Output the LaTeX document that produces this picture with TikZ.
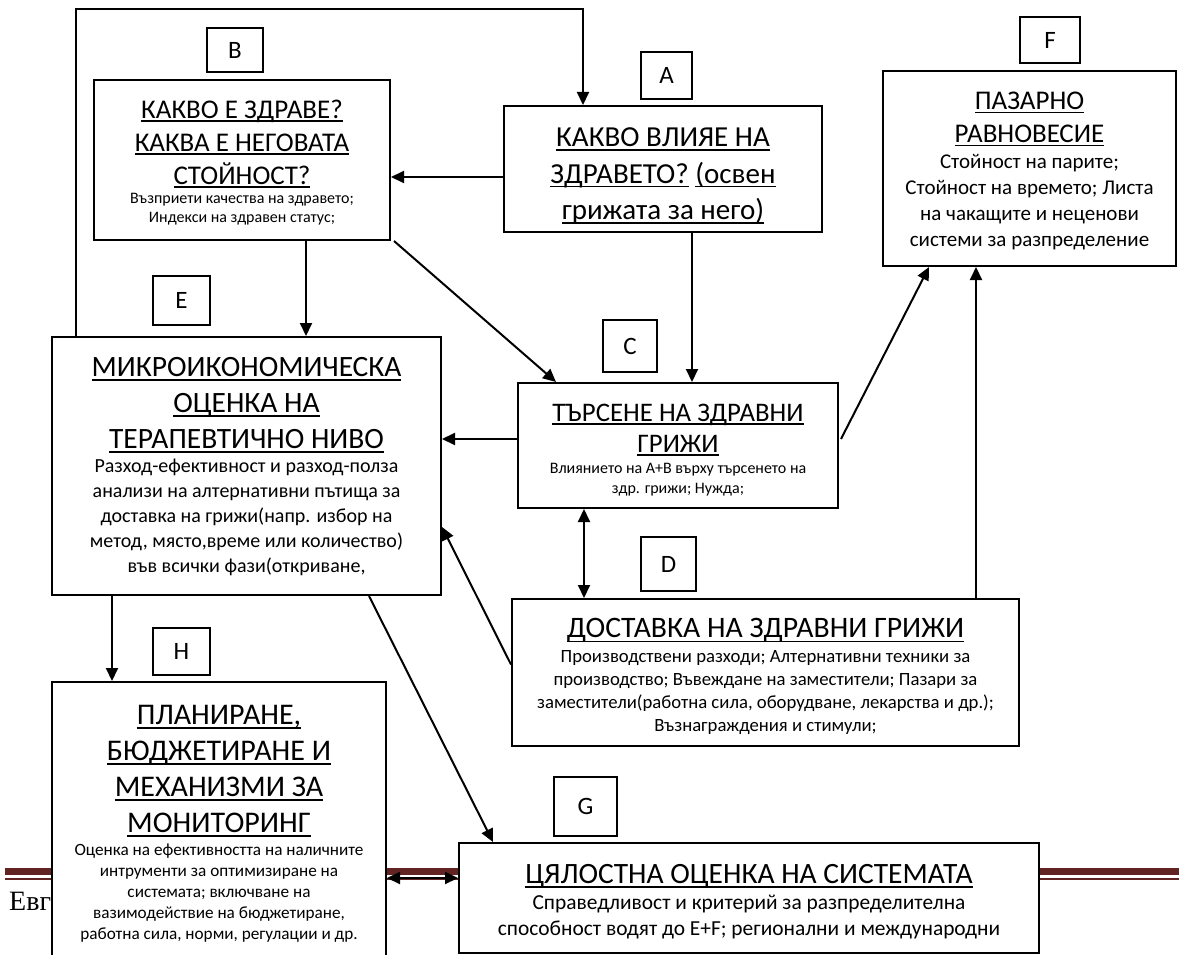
\documentclass[tikz,border=0pt]{standalone}
\usepackage{fontspec}
\setmainfont{Carlito}
\newfontfamily\footserif{Liberation Serif}
\usetikzlibrary{arrows.meta}
\definecolor{footbrown}{HTML}{622423}
\newsavebox\ttlbox
\newcommand\ttl[1]{\sbox\ttlbox{#1}\rlap{\rule[-0.15em]{\wd\ttlbox}{1.7pt}}\usebox\ttlbox}
\newcommand\fs[2]{\fontsize{#1}{#2}\selectfont}
\begin{document}
\begin{tikzpicture}[x=1pt,y=-1pt,
  box/.style={draw, line width=2pt, fill=white, inner sep=0pt},
  lbl/.style={draw, line width=1.6pt, fill=white, inner sep=0pt, font=\fs{25}{25}},
  txt/.style={anchor=north, align=center, inner sep=0pt},
  arr/.style={line width=2pt, -{Triangle[length=13pt,width=12pt]}},
  arrr/.style={line width=2pt, {Triangle[length=13pt,width=12pt]}-{Triangle[length=13pt,width=12pt]}},
]
\useasboundingbox (0,0) rectangle (1179,955);

% footer
\fill[footbrown] (5,868) rectangle (1179,875);
\fill[footbrown] (5,878) rectangle (1179,880);
\node[anchor=base west, inner sep=0pt, font=\footserif\fs{28}{28}] (foot) at (9,910) {Евг};

% boxes
\node[box, minimum width=318pt, minimum height=126pt] (A) at (663,169) {};
\node[box, minimum width=296pt, minimum height=160pt] (B) at (242,160) {};
\node[box, minimum width=293pt, minimum height=195pt] (F) at (1029.5,168.5) {};
\node[box, minimum width=389pt, minimum height=258pt] (E) at (246.5,466) {};
\node[box, minimum width=320pt, minimum height=125pt] (C) at (678,445.5) {};
\node[box, minimum width=507pt, minimum height=147pt] (D) at (765.5,672.5) {};
\node[box, minimum width=334pt, minimum height=300pt] (H) at (219,832) {};
\node[box, minimum width=580pt, minimum height=110pt] (G) at (749,898) {};

% labels
\node[lbl, minimum width=51pt, minimum height=47pt] (LA) at (666.5,75.5) {A};
\node[lbl, minimum width=56pt, minimum height=44pt] (LB) at (235,50) {B};
\node[lbl, minimum width=60pt, minimum height=46pt] (LF) at (1050,40) {F};
\node[lbl, minimum width=57pt, minimum height=49pt] (LE) at (181.5,300.5) {E};
\node[lbl, minimum width=54pt, minimum height=52pt] (LC) at (630,346) {C};
\node[lbl, minimum width=55pt, minimum height=54pt] (LD) at (668.5,564) {D};
\node[lbl, minimum width=57pt, minimum height=47pt] (LH) at (181.5,651.5) {H};
\node[lbl, minimum width=63pt, minimum height=59pt] (LG) at (585.5,806.5) {G};

% texts
\node[txt, font=\fs{29}{36.5}] (At) at (663,127.5) {\ttl{КАКВО ВЛИЯЕ НА}\\\ttl{ЗДРАВЕТО?} \ttl{(освен}\\\ttl{грижата за него)}};

\node[txt, font=\fs{27}{33}] (Bt) at (242,99.5) {\ttl{КАКВО Е ЗДРАВЕ?}\\\ttl{КАКВА Е НЕГОВАТА}\\\ttl{СТОЙНОСТ?}};
\node[txt, font=\fs{16}{19.5}] (Bb) at (242,193) {Възприети качества на здравето;\\Индекси на здравен статус;};

\node[txt, font=\fs{27}{33}] (Ft) at (1029.5,91.5) {\ttl{ПАЗАРНО}\\\ttl{РАВНОВЕСИЕ}};
\node[txt, font=\fs{21}{26}] (Fb) at (1029.5,154) {Стойност на парите;\\Стойност на времето; Листа\\на чакащите и неценови\\системи за разпределение};

\node[txt, font=\fs{29.5}{36}] (Et) at (246.5,357) {\ttl{МИКРОИКОНОМИЧЕСКА}\\\ttl{ОЦЕНКА НА}\\\ttl{ТЕРАПЕВТИЧНО НИВО}};
\node[txt, font=\fs{20}{25}] (Eb) at (246.5,459) {Разход-ефективност и разход-полза\\анализи на алтернативни пътища за\\доставка на грижи(напр. избор на\\метод, място,време или количество)\\във всички фази(откриване,};

\node[txt, font=\fs{26.8}{31}] (Ct) at (678,403.5) {\ttl{ТЪРСЕНЕ НА ЗДРАВНИ}\\\ttl{ГРИЖИ}};
\node[txt, font=\fs{16}{20}] (Cb) at (678,463) {Влиянието на A+B върху търсенето на\\здр. грижи; Нужда;};

\node[txt, font=\fs{29.7}{29.7}] (Dt) at (765.5,618.5) {\ttl{ДОСТАВКА НА ЗДРАВНИ ГРИЖИ}};
\node[txt, font=\fs{18.7}{23}] (Db) at (765.5,650) {Производствени разходи; Алтернативни техники за\\производство; Въвеждане на заместители; Пазари за\\заместители(работна сила, оборудване, лекарства и др.);\\Възнаграждения и стимули;};

\node[txt, font=\fs{30}{36}] (Ht) at (219,705) {\ttl{ПЛАНИРАНЕ,}\\\ttl{БЮДЖЕТИРАНЕ И}\\\ttl{МЕХАНИЗМИ ЗА}\\\ttl{МОНИТОРИНГ}};
\node[txt, font=\fs{17.2}{21}] (Hb) at (219,843.5) {Оценка на ефективността на наличните\\интрументи за оптимизиране на\\системата; включване на\\вазимодействие на бюджетиране,\\работна сила, норми, регулации и др.};

\node[txt, font=\fs{29.5}{29.5}] (Gt) at (749,864) {\ttl{ЦЯЛОСТНА ОЦЕНКА НА СИСТЕМАТА}};
\node[txt, font=\fs{21.4}{25.5}] (Gb) at (749,895) {Справедливост и критерий за разпределителна\\способност водят до E+F; регионални и международни};

% connectors
\coordinate (loop) at (300,9.5);
\draw[arr] ([xshift=24.5pt]E.north west) |- (loop) -| ([xshift=80pt]A.north west);
\draw[arr] ([yshift=-8pt]A.west) -- ([yshift=-8pt]A.west -| B.east);
\draw[arr] ([xshift=64pt]B.south) -- ([xshift=64pt]B.south |- E.north);
\draw[arr] ([xshift=3pt]B.south east) -- ([xshift=39pt]C.north west);
\draw[arr] ([xshift=29pt]A.south) -- ([xshift=29pt]A.south |- C.north);
\draw[arr] ([yshift=6.5pt]C.west) -- ([yshift=6.5pt]C.west -| E.east);
\draw[arr] ([xshift=2pt,yshift=6.5pt]C.east) -- ([xshift=47pt]F.south west);
\draw[arr] ([xshift=210.5pt]D.north) -- ([xshift=210.5pt]D.north |- F.south);
\draw[arrr] ([xshift=-94pt]C.south) -- ([xshift=-94pt]C.south |- D.north);
\draw[arr] ([yshift=8pt]D.west) -- ([yshift=-61pt]E.east);
\draw[arr] ([xshift=-134.5pt]E.south) -- ([xshift=-134.5pt]E.south |- H.north);
\draw[arr] ([xshift=-73pt]E.south east) -- ([xshift=35pt]G.north west);
\draw[arrr] ([yshift=20pt]G.west) -- ([yshift=20pt]G.west -| H.east);
\end{tikzpicture}
\end{document}
